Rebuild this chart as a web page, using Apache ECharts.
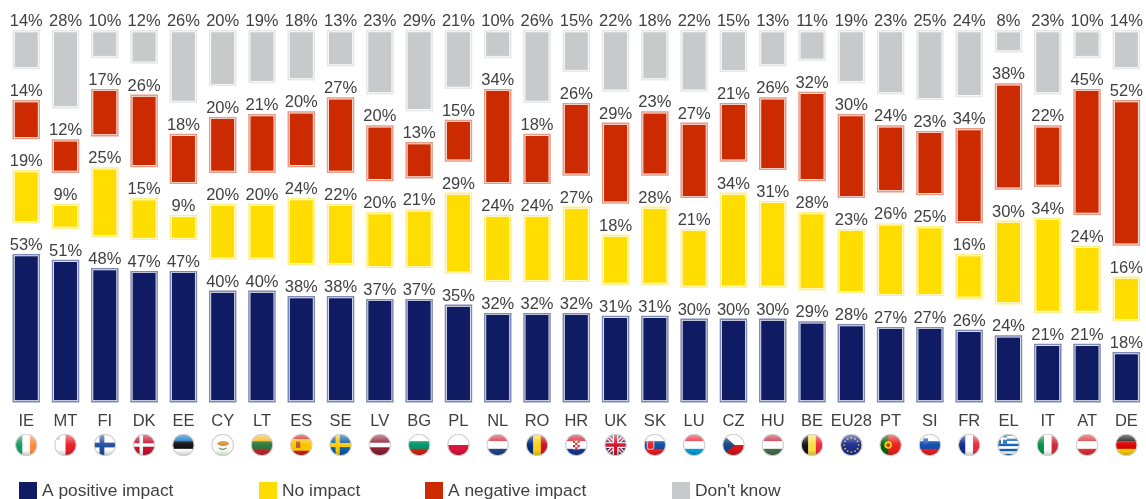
<!DOCTYPE html>
<html><head><meta charset="utf-8">
<style>html,body{margin:0;padding:0;background:#fff;overflow:hidden}#c{width:1146px;height:499px}</style>
<script src="https://cdn.jsdelivr.net/npm/echarts@6/dist/echarts.min.js"></script>
</head><body><div id="c"></div>
<script>
const countries = ['IE','MT','FI','DK','EE','CY','LT','ES','SE','LV','BG','PL','NL','RO','HR','UK','SK','LU','CZ','HU','BE','EU28','PT','SI','FR','EL','IT','AT','DE'];
const positive = [53,51,48,47,47,40,40,38,38,37,37,35,32,32,32,31,31,30,30,30,29,28,27,27,26,24,21,21,18];
const noImpact = [19,9,25,15,9,20,20,24,22,20,21,29,24,24,27,18,28,21,34,31,28,23,26,25,16,30,34,24,16];
const negative = [14,12,17,26,18,20,21,20,27,20,13,15,34,18,26,29,23,27,21,26,32,30,24,23,34,38,22,45,52];
const dontKnow = [14,28,10,12,26,20,19,18,13,23,29,21,10,26,15,22,18,22,15,13,11,19,23,25,24,8,23,10,14];
const seriesNames = ['A positive impact','No impact','A negative impact',"Don't know"];
const seriesColors = ['#0f1c64','#ffdd00','#cc2a00','#c8c9cb'];
const ringColors = ['#8088b4','#ffef8c','#e89a84','#e6e7e8'];
const legendLeft = [19,259,425,672];
const gapValue = 11;

/* flags */
const hs=(...c)=>c.map((k,i)=>`<rect x="0" y="${24*i/c.length}" width="24" height="${24/c.length+.3}" fill="${k}"/>`).join('');
const vs=(...c)=>c.map((k,i)=>`<rect y="0" x="${24*i/c.length}" height="24" width="${24/c.length+.3}" fill="${k}"/>`).join('');
const cross=(bg,fg,w)=>`<rect width="24" height="24" fill="${bg}"/><rect x="${9-w/2}" width="${w}" height="24" fill="${fg}"/><rect y="${12-w/2}" width="24" height="${w}" fill="${fg}"/>`;
let euStars='';
[[12,4.5],[15.8,5.5],[18.5,8.2],[19.5,12],[18.5,15.8],[15.8,18.5],[12,19.5],[8.2,18.5],[5.5,15.8],[4.5,12],[5.5,8.2],[8.2,5.5]].forEach(p=>{euStars+=`<circle cx="${p[0]}" cy="${p[1]}" r=".9" fill="#f5d000"/>`;});
let elStripes='';
for(let i=0;i<9;i++) elStripes+=`<rect y="${i*24/9}" width="24" height="${24/9+.2}" fill="${i%2?'#fff':'#1463b4'}"/>`;
let hrChecks='<rect x="8.500" y="7.500" width="7" height="9" fill="#fff"/>';
for(let r=0;r<4;r++)for(let q=0;q<3;q++) if((r+q)%2===0) hrChecks+=`<rect x="${8.5+q*7/3}" y="${7.5+r*9/4}" width="${7/3}" height="${9/4}" fill="#d8202c"/>`;
const flags={
 IE:vs('#169b62','#fff','#ff883e'), MT:vs('#fff','#e8202a')+'<rect x="2.500" y="3" width="3.500" height="3.500" fill="#bbb"/>',
 FI:cross('#fff','#1f4e9c',5), DK:cross('#c8102e','#fff',3.6), EE:hs('#0a72c6','#111','#fff'),
 CY:'<rect width="24" height="24" fill="#fff"/><ellipse cx="12.500" cy="10.500" rx="6" ry="2.600" fill="#d8913a"/><path d="M8 15q4 3 8 0" stroke="#5a8a4a" stroke-width="1.300" fill="none"/>',
 LT:hs('#fdb913','#2a7a3e','#c1272d'), ES:hs('#d0201c','#ffc400','#ffc400','#d0201c')+'<rect x="6.500" y="8.500" width="4.500" height="6.500" fill="#c05a28"/>',
 SE:cross('#0a5ea8','#fecb00',4.4), LV:hs('#8e2035','#8e2035','#fff','#8e2035','#8e2035'), BG:hs('#fff','#00966e','#d62612'),
 PL:hs('#fff','#dc143c'), NL:hs('#d8303f','#fff','#21468b'), RO:vs('#002b7f','#fcd116','#ce1126'),
 HR:hs('#d8202c','#fff','#18388f')+hrChecks,
 UK:'<rect width="24" height="24" fill="#27407f"/><path d="M0 0L24 24M24 0L0 24" stroke="#fff" stroke-width="4"/><path d="M0 0L24 24M24 0L0 24" stroke="#cf142b" stroke-width="1.600"/><path d="M12 0V24M0 12H24" stroke="#fff" stroke-width="6"/><path d="M12 0V24M0 12H24" stroke="#cf142b" stroke-width="3.400"/>',
 SK:hs('#fff','#0b4ea2','#ee1c25')+'<rect x="4" y="7.500" width="7" height="9" rx="2" fill="#ee1c25" stroke="#fff" stroke-width=".8"/>',
 LU:hs('#ed2939','#fff','#00a1de'),
 CZ:'<rect width="24" height="24" fill="#fff"/><rect y="12" width="24" height="12" fill="#d7141a"/><path d="M0 0L13 12L0 24Z" fill="#11457e"/>',
 HU:hs('#cd2a3e','#fff','#436f4d'), BE:vs('#111','#fae042','#ed2939'),
 EU28:'<rect width="24" height="24" fill="#1c2d8e"/>'+euStars,
 PT:'<rect width="24" height="24" fill="#e8201c"/><rect width="9.500" height="24" fill="#006600"/><circle cx="9.500" cy="12" r="4" fill="#f5d000"/><circle cx="9.500" cy="12" r="2" fill="#e8201c"/>',
 SI:hs('#fff','#0a4fb0','#ed1c24')+'<path d="M5 5h5v4q0 2-2.500 3q-2.500-1-2.500-3z" fill="#2a5fb8"/>',
 FR:vs('#0f2a8a','#fff','#ed2939'),
 EL:elStripes+'<rect width="10.500" height="10.700" fill="#1463b4"/><rect x="4.200" width="2.100" height="10.700" fill="#fff"/><rect y="4.300" width="10.500" height="2.100" fill="#fff"/>',
 IT:vs('#009246','#fff','#ce2b37'), AT:hs('#e0303a','#fff','#e0303a'), DE:hs('#111','#dd0000','#ffce00')
};
function flagUri(code){
 const svg=`<svg xmlns="http://www.w3.org/2000/svg" width="23" height="23" viewBox="0 0 24 24"><defs><clipPath id="k"><circle cx="12" cy="12" r="11"/></clipPath><linearGradient id="g" x1="0" y1="0" x2="0" y2="1"><stop offset="0" stop-color="#fff" stop-opacity=".55"/><stop offset=".45" stop-color="#fff" stop-opacity=".05"/><stop offset=".7" stop-color="#000" stop-opacity="0"/><stop offset="1" stop-color="#000" stop-opacity=".25"/></linearGradient></defs><g clip-path="url(#k)">${flags[code]}<rect width="24" height="24" fill="url(#g)"/></g><circle cx="12" cy="12" r="11.200" fill="none" stroke="#cfcfcf" stroke-width="1.100"/></svg>`;
 return 'data:image/svg+xml;charset=utf-8,'+encodeURIComponent(svg);
}
const rich={c:{fontFamily:'Liberation Sans',fontSize:16.5,color:'#404040',lineHeight:24,align:'center',verticalAlign:'middle'}};
countries.forEach(k=>{rich['f'+k]={width:23,height:23,align:'center',backgroundColor:{image:flagUri(k)}};});

const valuesBySeries=[positive,noImpact,negative,dontKnow];
const seriesList=valuesBySeries.map((vals,s)=>{
 const data=vals.map((v,i)=>{
  let start=0;
  for(let j=0;j<s;j++) start+=valuesBySeries[j][i]+gapValue;
  return [i,start,start+v,v];
 });
 return {
  type:'custom',name:seriesNames[s],data,
  itemStyle:{color:seriesColors[s]},
  encode:{x:0,y:[1,2]},
  clip:false,
  renderItem(params,api){
   const i=api.value(0);
   const a=api.coord([i,api.value(1)]), b=api.coord([i,api.value(2)]);
   const band=api.size([1,0])[0];
   const w=band*0.7, x=a[0]-w/2, y=b[1], h=a[1]-b[1];
   const rect=(inset,fill)=>({type:'rect',shape:{x:x+inset,y:y+inset,width:w-2*inset,height:h-2*inset},style:{fill}});
   return {type:'group',children:[
    rect(0,ringColors[s]),rect(1.5,'#fff'),rect(2.2,seriesColors[s]),
    {type:'text',style:{text:api.value(3)+'%',x:a[0],y:y,align:'center',verticalAlign:'bottom',fontFamily:'Liberation Sans',fontSize:16.5,fill:'#404040'}}
   ]};
  }
 };
});
const chart=echarts.init(document.getElementById('c'),null,{renderer:'canvas'});
chart.setOption({
 animation:false,backgroundColor:'#fff',
 grid:{left:6.6,right:-2,top:10.5,bottom:96.5,containLabel:false},
 xAxis:{type:'category',data:countries,axisLine:{show:false},axisTick:{show:false},splitLine:{show:false},
  axisLabel:{interval:0,margin:7,hideOverlap:false,formatter:v=>`{c|${v}}\n{f${v}|}`,rich}},
 yAxis:{type:'value',min:0,max:140,show:false},
 legend:seriesNames.map((n,i)=>({data:[n],left:legendLeft[i],top:482,padding:0,icon:'rect',itemWidth:18,itemHeight:18,selectedMode:false,
  textStyle:{fontFamily:'Liberation Sans',fontSize:17.4,color:'#404040'}})),
 series:seriesList
});
</script></body></html>
